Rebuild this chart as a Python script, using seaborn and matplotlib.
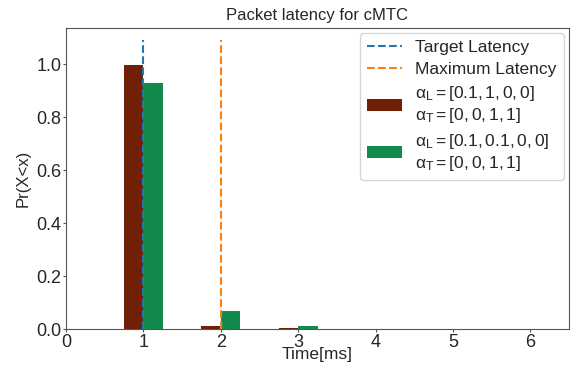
import numpy as np
import pandas as pd
import matplotlib.pyplot as plt
import seaborn as sns
from matplotlib.patches import Patch

times = [1, 2, 3]
cfg_a = [0.995, 0.012, 0.003]
cfg_b = [0.928, 0.068, 0.012]
label_a = "$\\alpha_\\mathrm{L} = [0.1, 1, 0, 0]$\n$\\alpha_\\mathrm{T} = [0, 0, 1, 1]$"
label_b = "$\\alpha_\\mathrm{L} = [0.1, 0.1, 0, 0]$\n$\\alpha_\\mathrm{T} = [0, 0, 1, 1]$"
target_latency = 1
max_latency = 2

sns.set_style("ticks")
plt.rcParams['font.family'] = ['Liberation Sans', 'DejaVu Sans']
plt.rcParams['mathtext.fontset'] = 'custom'
plt.rcParams['mathtext.rm'] = 'Liberation Sans'
plt.rcParams['mathtext.it'] = 'Liberation Sans'

df = pd.DataFrame({
    'Time': times * 2,
    'Pr': cfg_a + cfg_b,
    'cfg': [label_a] * len(times) + [label_b] * len(times),
})

fig, ax = plt.subplots(figsize=(5.79, 3.70), dpi=100)
fig.subplots_adjust(left=66/579, right=569/579, top=1-28/370, bottom=1-329/370)

l1, = ax.plot([target_latency, target_latency], [0, 1.09], ls='--', color='#1f77b4', lw=1.5, label='Target Latency')
l2, = ax.plot([max_latency, max_latency], [0, 1.09], ls='--', color='#ff7f0e', lw=1.5, label='Maximum Latency')

sns.barplot(data=df, x='Time', y='Pr', hue='cfg', native_scale=True, width=0.5,
            palette=['#722005', '#138a4d'], saturation=1, ax=ax, legend=False,
            linewidth=0, zorder=1)
l1.set_zorder(3)
l2.set_zorder(3)

handles = [l1, l2, Patch(color='#722005', lw=0), Patch(color='#138a4d', lw=0)]
labels = ['Target Latency', 'Maximum Latency', label_a, label_b]
ax.legend(handles, labels, loc='upper right', fontsize=12.5, borderaxespad=0.3,
          labelspacing=0.4, handletextpad=0.8)

ax.set_xlim(0, 6.5)
ax.set_ylim(0, 1.136)
ax.set_xticks(range(0, 7))
ax.set_yticks([0, 0.2, 0.4, 0.6, 0.8, 1.0])
ax.tick_params(labelsize=13, length=2, pad=1.5, color='#555555')
for s in ax.spines.values():
    s.set_color('#555555')
ax.set_title('Packet latency for cMTC', fontsize=12)
ax.set_xlabel('Time[ms]', fontsize=12.5, labelpad=-3)
ax.set_ylabel('Pr(X<x)', fontsize=12)

fig.savefig('out.png', dpi=100)
